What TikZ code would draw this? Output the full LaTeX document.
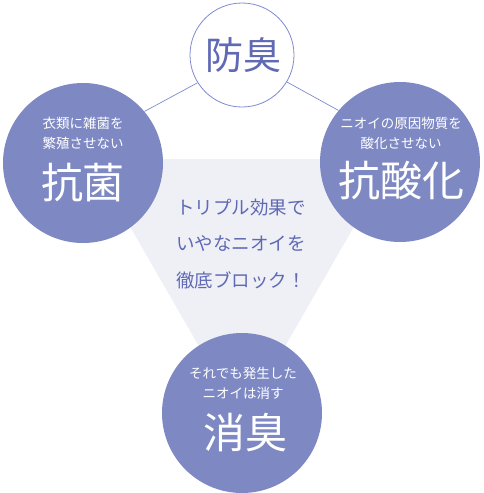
\documentclass[tikz,border=0pt]{standalone}
\usepackage{fontspec}
\newfontfamily\jp{Noto Sans CJK JP}
\definecolor{circ}{HTML}{7E89C4}
\definecolor{tri}{HTML}{EFF0F6}
\definecolor{ln}{HTML}{7F8AD0}
\definecolor{tx}{HTML}{5F69B4}
\begin{document}
\begin{tikzpicture}[x=1pt,y=-1pt,
  bigc/.style={circle,fill=circ,inner sep=0pt,minimum size=160pt},
  topc/.style={circle,draw=ln,line width=0.8pt,fill=white,inner sep=0pt,minimum size=104pt},
  small/.style={text=white,font=\jp\fontsize{13.5}{20}\selectfont,align=center,inner sep=0pt},
  big/.style={text=white,font=\jp\fontsize{42}{42}\selectfont,inner sep=0pt},
  conn/.style={draw=ln,line width=0.7pt}]
\useasboundingbox (0,0) rectangle (483,493);
\fill[tri] (91,159) -- (393,159) -- (242,421) -- cycle;
\node[bigc] (left) at (83,163) {};
\node[bigc] (right) at (400,162) {};
\node[bigc] (bottom) at (242,413) {};
\node[topc] (top) at (242,55) {};
\draw[conn] (top.212) -- (left.40);
\draw[conn] (top.-31) -- (right.140);
\node[text=tx,font=\jp\fontsize{38}{38}\selectfont,inner sep=0pt] (toptext) at (243,55) {防臭};
\node[small] (lsub) at (83,133) {衣類に雑菌を\\繁殖させない};
\node[big] (lbig) at (83,183) {抗菌};
\node[small] (rsub) at (401,133) {ニオイの原因物質を\\酸化させない};
\node[big] (rbig) at (401,181) {抗酸化};
\node[small] (bsub) at (243,383) {それでも発生した\\ニオイは消す};
\node[big] (bbig) at (245,433) {消臭};
\node[text=tx,font=\jp\fontsize{18.5}{36.5}\selectfont,align=left,inner sep=0pt] (mid) at (241,244) {トリプル効果で\\いやなニオイを\\徹底ブロック！};
\end{tikzpicture}
\end{document}
